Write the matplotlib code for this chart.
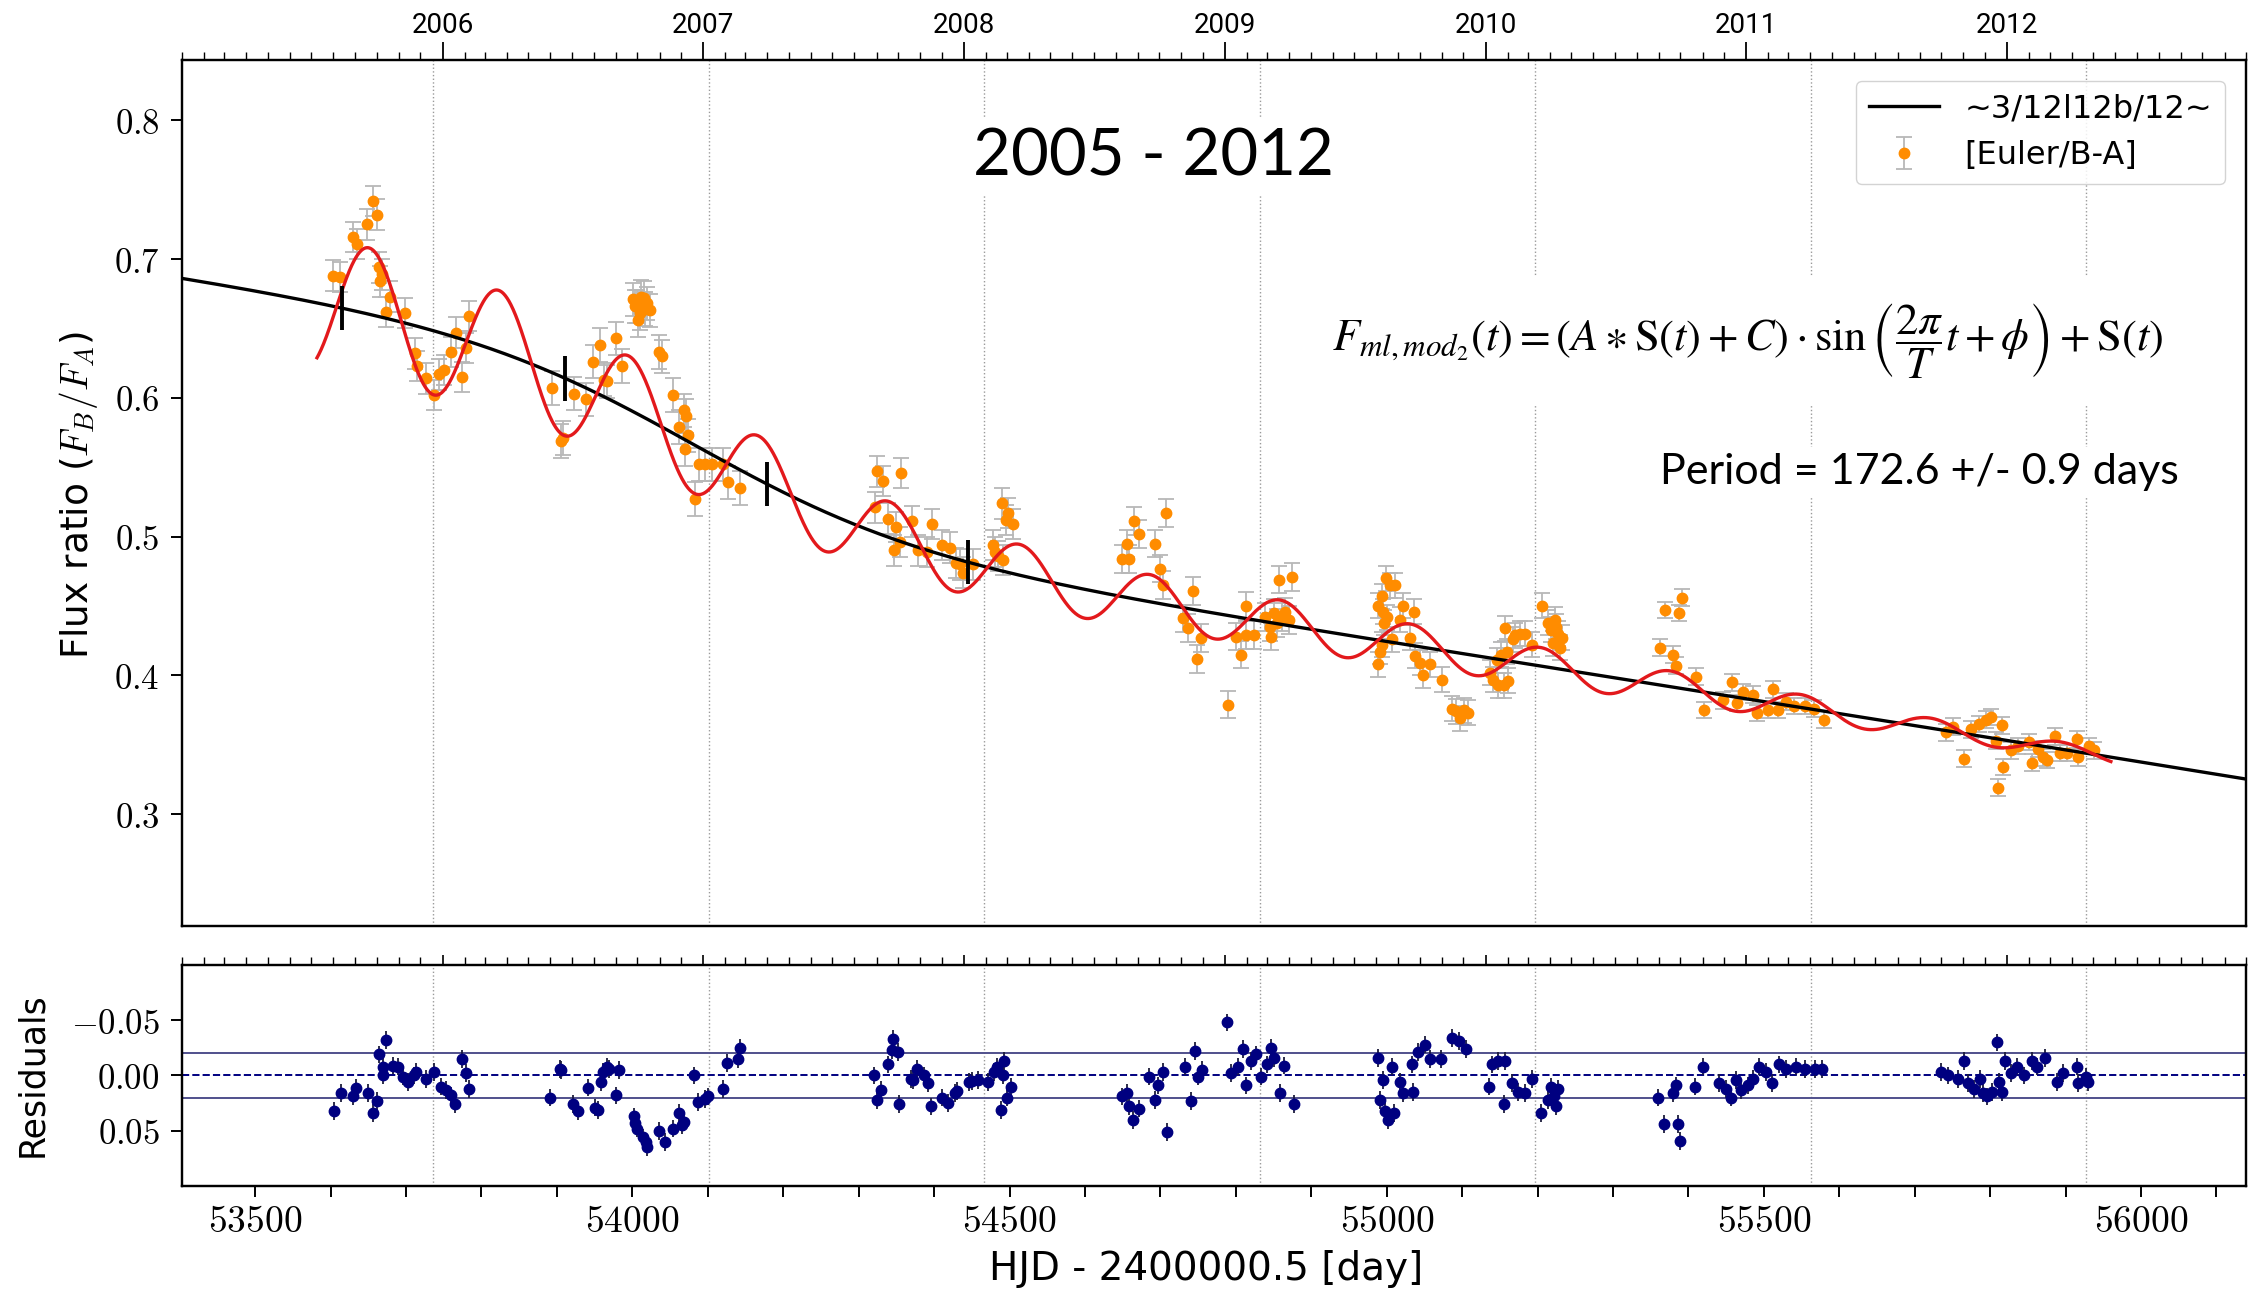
import numpy as np
import matplotlib
matplotlib.use('Agg')
import matplotlib.pyplot as plt
from matplotlib.ticker import FixedLocator, MultipleLocator, FuncFormatter

plt.rcParams['mathtext.fontset'] = 'cm'
plt.rcParams['font.family'] = 'DejaVu Sans'

# Euler B/A flux ratio, one pair of lists per observing season (MJD, ratio)
mjd_05 = [53603, 53613, 53630, 53635, 53648, 53656, 53662, 53664, 53666, 53668, 53674, 53679,
          53699, 53712, 53714, 53727, 53737, 53744, 53750, 53760, 53766, 53774, 53780, 53784]
ratio_05 = [0.688, 0.687, 0.716, 0.711, 0.725, 0.742, 0.732, 0.694, 0.684, 0.689, 0.662, 0.673,
            0.661, 0.632, 0.623, 0.614, 0.602, 0.617, 0.620, 0.633, 0.647, 0.615, 0.636, 0.659]

mjd_06 = [53893, 53906, 53908, 53923, 53939, 53948, 53957, 53962, 53966, 53978, 53986, 54001,
          54004, 54006, 54008, 54010, 54012, 54015, 54017, 54019, 54024, 54036, 54040, 54054,
          54062, 54068, 54070, 54071, 54074, 54083, 54088, 54096, 54105, 54120, 54127, 54143]
ratio_06 = [0.607, 0.569, 0.571, 0.603, 0.599, 0.626, 0.638, 0.613, 0.612, 0.643, 0.623, 0.671,
            0.666, 0.666, 0.656, 0.661, 0.673, 0.672, 0.664, 0.668, 0.663, 0.633, 0.630, 0.602,
            0.579, 0.591, 0.563, 0.587, 0.573, 0.527, 0.552, 0.552, 0.552, 0.552, 0.539, 0.535]

mjd_07 = [54322, 54324, 54332, 54339, 54347, 54350, 54355, 54356, 54371, 54379, 54391, 54397,
          54410, 54421, 54429, 54434, 54439, 54452, 54478, 54481, 54485, 54490, 54492, 54496,
          54498, 54504]
ratio_07 = [0.521, 0.547, 0.540, 0.513, 0.490, 0.507, 0.496, 0.546, 0.511, 0.490, 0.489, 0.509,
            0.494, 0.492, 0.481, 0.480, 0.474, 0.480, 0.494, 0.489, 0.486, 0.524, 0.483, 0.512,
            0.517, 0.509]

mjd_08 = [54649, 54656, 54659, 54665, 54672, 54693, 54699, 54703, 54708, 54730, 54736, 54743,
          54748, 54754, 54790, 54800, 54807, 54813, 54814, 54824, 54839, 54845, 54847, 54850,
          54854, 54857, 54861, 54865, 54870, 54875]
ratio_08 = [0.484, 0.495, 0.484, 0.511, 0.502, 0.495, 0.477, 0.465, 0.517, 0.441, 0.434, 0.461,
            0.412, 0.427, 0.379, 0.428, 0.415, 0.450, 0.429, 0.429, 0.442, 0.435, 0.428, 0.445,
            0.438, 0.469, 0.442, 0.446, 0.440, 0.471]

mjd_09 = [54988, 54989, 54991, 54994, 54994, 54995, 54997, 54999, 55001, 55004, 55007, 55011,
          55018, 55022, 55031, 55036, 55037, 55044, 55048, 55057, 55073, 55086, 55092, 55097,
          55103, 55108, 55137, 55141, 55146, 55148, 55152, 55155, 55157, 55159, 55161, 55168,
          55170, 55177, 55183, 55192, 55206, 55214, 55218, 55221, 55223, 55225, 55227, 55230,
          55232]
ratio_09 = [0.450, 0.408, 0.417, 0.457, 0.422, 0.446, 0.438, 0.470, 0.442, 0.465, 0.426, 0.465,
            0.440, 0.450, 0.427, 0.446, 0.414, 0.409, 0.400, 0.408, 0.397, 0.376, 0.374, 0.369,
            0.375, 0.373, 0.402, 0.397, 0.411, 0.393, 0.415, 0.393, 0.434, 0.417, 0.396, 0.426,
            0.429, 0.430, 0.430, 0.422, 0.450, 0.438, 0.433, 0.423, 0.440, 0.435, 0.430, 0.420,
            0.427]

mjd_10 = [55362, 55369, 55380, 55384, 55387, 55391, 55410, 55420, 55446, 55458, 55465, 55472,
          55486, 55491, 55506, 55512, 55519, 55529, 55540, 55554, 55566, 55580]
ratio_10 = [0.420, 0.447, 0.415, 0.407, 0.445, 0.456, 0.399, 0.375, 0.382, 0.395, 0.380, 0.388,
            0.386, 0.373, 0.375, 0.390, 0.375, 0.381, 0.378, 0.378, 0.376, 0.368]

mjd_11 = [55742, 55751, 55765, 55775, 55785, 55794, 55801, 55808, 55810, 55815, 55817, 55827,
          55837, 55851, 55855, 55864, 55870, 55875, 55886, 55893, 55902, 55915, 55917, 55931,
          55938]
ratio_11 = [0.359, 0.363, 0.340, 0.361, 0.365, 0.368, 0.370, 0.353, 0.319, 0.364, 0.334, 0.346,
            0.349, 0.352, 0.337, 0.347, 0.341, 0.339, 0.356, 0.344, 0.344, 0.354, 0.341, 0.349,
            0.346]

season_err = [0.011, 0.012, 0.011, 0.010, 0.009, 0.006, 0.006]

# residuals of the fit
resid_mjd = [53604, 53614, 53630, 53634, 53649, 53656, 53661, 53664, 53669, 53670, 53674, 53683,
             53689, 53696, 53702, 53711, 53713, 53727, 53737, 53746, 53753, 53759, 53765, 53774,
             53779, 53783,
             53891, 53904, 53906, 53922, 53928, 53941, 53950, 53955, 53959, 53961, 53967, 53969,
             53979, 53983, 54002, 54004, 54006, 54014, 54018, 54020, 54036, 54043, 54054, 54062,
             54066, 54068, 54082, 54087, 54096, 54100, 54120, 54126, 54140, 54143,
             54320, 54324, 54330, 54339, 54344, 54346, 54352, 54354, 54370, 54372, 54377, 54386,
             54392, 54396, 54410, 54418, 54428, 54431, 54446, 54450, 54458, 54471, 54480, 54484,
             54489, 54491, 54493, 54497, 54502,
             54649, 54656, 54658, 54664, 54671, 54685, 54693, 54697, 54704, 54709, 54732, 54741,
             54746, 54750, 54755,
             54788, 54794, 54803, 54809, 54814, 54820, 54827, 54834, 54841, 54847, 54851, 54858,
             54864, 54877,
             54989, 54991, 54995, 54998, 55002, 55007, 55010, 55017, 55022, 55033, 55035, 55042,
             55051, 55057, 55072, 55087, 55096, 55105, 55136, 55140, 55147, 55155, 55157, 55166,
             55174, 55183, 55192, 55205, 55214, 55218, 55222, 55224, 55227,
             55360, 55367, 55380, 55384, 55386, 55389, 55409, 55419, 55441, 55450, 55456, 55463,
             55470, 55479, 55485, 55494, 55503, 55511, 55520, 55529, 55542, 55555, 55568, 55577,
             55735, 55744, 55757, 55765, 55770, 55778, 55786, 55790, 55796, 55803, 55809, 55812,
             55816, 55820, 55827, 55836, 55845, 55856, 55862, 55873, 55888, 55897, 55915, 55917,
             55927, 55929]
resid_val = [0.032, 0.016, 0.019, 0.011, 0.016, 0.034, 0.023, -0.019, -0.008, 0.000, -0.032, -0.009,
             -0.008, 0.001, 0.006, 0.000, -0.003, 0.003, -0.003, 0.010, 0.013, 0.018, 0.026, -0.015,
             -0.002, 0.012,
             0.020, -0.006, -0.005, 0.026, 0.032, 0.011, 0.029, 0.031, 0.006, -0.003, -0.008, -0.006,
             0.018, -0.005, 0.037, 0.043, 0.048, 0.056, 0.060, 0.065, 0.050, 0.060, 0.048, 0.034,
             0.045, 0.042, 0.000, 0.024, 0.021, 0.019, 0.012, -0.011, -0.015, -0.025,
             0.000, 0.022, 0.013, -0.010, -0.023, -0.033, -0.021, 0.026, 0.003, 0.004, -0.006, 0.000,
             0.007, 0.028, 0.020, 0.025, 0.016, 0.014, 0.006, 0.005, 0.004, 0.006, -0.003, -0.008,
             0.031, 0.000, -0.013, 0.020, 0.010,
             0.019, 0.016, 0.028, 0.040, 0.030, 0.001, 0.022, 0.009, -0.003, 0.051, -0.008, 0.023,
             -0.022, 0.001, -0.005,
             -0.048, -0.002, -0.008, -0.024, 0.009, -0.013, -0.019, 0.001, -0.010, -0.025, -0.016, 0.016,
             -0.009, 0.026,
             -0.016, 0.022, 0.004, 0.032, 0.040, -0.008, 0.034, 0.006, 0.016, -0.010, 0.015, -0.021,
             -0.028, -0.015, -0.015, -0.034, -0.031, -0.024, 0.010, -0.010, -0.013, 0.026, -0.013, 0.007,
             0.015, 0.016, 0.003, 0.034, 0.022, 0.010, 0.019, 0.028, 0.012,
             0.020, 0.044, 0.016, 0.009, 0.044, 0.059, 0.010, -0.008, 0.007, 0.012, 0.020, 0.004,
             0.013, 0.009, 0.003, -0.008, -0.003, 0.007, -0.010, -0.006, -0.008, -0.006, -0.006, -0.006,
             -0.003, 0.000, 0.003, -0.013, 0.007, 0.012, 0.003, 0.016, 0.019, 0.015, -0.030, 0.006,
             0.015, -0.013, -0.002, -0.008, 0.000, -0.013, -0.008, -0.016, 0.006, -0.002, -0.008, 0.007,
             0.001, 0.006]
resid_err = 0.008

# points read along the smooth microlensing curve S(t)
curve_mjd = [53403, 53546, 53615, 53736, 53864, 53911, 54032, 54121, 54178, 54291, 54445, 54585,
             54775, 54973, 55283, 55661, 56025, 56139]
curve_ratio = [0.684, 0.674, 0.666, 0.651, 0.627, 0.615, 0.578, 0.548, 0.534, 0.508, 0.486, 0.469,
               0.446, 0.4255, 0.3986, 0.3666, 0.3361, 0.325]

# modulation model: F = (A*S(t) + C) * sin(2*pi/T * t + phi) + S(t)
period = 172.6
amp_a = 0.136
amp_c = -0.042
t_peak = 53651.0
model_start, model_end = 53582, 55960

mark_mjd = [53615, 53911, 54178, 54445]

year_labels = ['2006', '2007', '2008', '2009', '2010', '2011', '2012']


def to_mjd(dates):
    return (np.asarray(dates, dtype='datetime64[D]') - np.datetime64('1858-11-17')).astype(float)


# smooth curve through the read points: quadratic trend plus a step around 2006.9
def basis(t):
    u = (np.asarray(t, float) - 54800.0) / 1000.0
    return np.column_stack([np.ones_like(u), u, u ** 2, np.tanh((np.asarray(t, float) - 54080.0) / 300.0)])


coef = np.linalg.lstsq(basis(curve_mjd), np.array(curve_ratio), rcond=None)[0]


def smooth(t):
    return basis(t) @ coef


phi = np.pi / 2 - 2 * np.pi * t_peak / period


def modulated(t):
    s = smooth(t)
    return (amp_a * s + amp_c) * np.sin(2 * np.pi / period * t + phi) + s


flux_mjd = np.concatenate([mjd_05, mjd_06, mjd_07, mjd_08, mjd_09, mjd_10, mjd_11])
flux_ratio = np.concatenate([ratio_05, ratio_06, ratio_07, ratio_08, ratio_09, ratio_10, ratio_11])
flux_err = np.concatenate([np.full(len(m), e) for m, e in
                           zip([mjd_05, mjd_06, mjd_07, mjd_08, mjd_09, mjd_10, mjd_11], season_err)])

year_mjd = to_mjd([y + '-01-01' for y in year_labels])
month_mjd = to_mjd(np.arange('2005-01', '2013-01', dtype='datetime64[M]').astype('datetime64[D]'))

xlim = (53403, 56139)

fig = plt.figure(figsize=(22.52, 13.0), dpi=100)
ax = fig.add_axes([0.0808, 0.2877, 0.9165, 0.6662])
axr = fig.add_axes([0.0808, 0.0877, 0.9165, 0.1700])

for a in (ax, axr):
    for sp in a.spines.values():
        sp.set_linewidth(1.6)
    for m in year_mjd:
        a.axvline(m, color='#9a9a9a', ls=':', lw=1.0, zorder=0)

# main panel
eb = ax.errorbar(flux_mjd, flux_ratio, yerr=flux_err, fmt='o', color='darkorange', ms=7.5,
                 ecolor='#b8b8b8', elinewidth=1.3, capsize=5.5, capthick=1.3, zorder=2,
                 label='[Euler/B-A]')
tt = np.linspace(xlim[0], xlim[1], 2000)
line, = ax.plot(tt, smooth(tt), color='black', lw=2.4, zorder=3, label='~3/12l12b/12~')
tm = np.linspace(model_start, model_end, 3000)
ax.plot(tm, modulated(tm), color='#e3191c', lw=2.4, zorder=4)
ms = smooth(mark_mjd)
ax.vlines(mark_mjd, ms - 0.016, ms + 0.016, color='black', lw=2.8, zorder=5)

ax.set_xlim(*xlim)
ax.set_ylim(0.2194, 0.8435)
ax.yaxis.set_major_locator(FixedLocator([0.3, 0.4, 0.5, 0.6, 0.7, 0.8]))
ax.yaxis.set_major_formatter(FuncFormatter(lambda v, p: '$%.1f$' % v))
ax.tick_params(axis='y', labelsize=25, length=8, width=1.4, pad=8, right=False)

ax.legend(handles=[line, eb], loc='upper right', fontsize=23, handlelength=2.2,
          framealpha=0.85, edgecolor='#cccccc', borderaxespad=0.65)

ax.text(0.4705, 0.888, '2005 - 2012', transform=ax.transAxes, ha='center', va='center',
        fontsize=47, family='Lato', zorder=6,
        bbox=dict(facecolor='white', edgecolor='none', pad=6))
ax.text(0.7587, 0.676,
        r'$F_{ml,mod_2}(t) = (A \ast \mathrm{S}(t) + C) \cdot \sin\left(\dfrac{2\pi}{T}t + \phi\right) + \mathrm{S}(t)$',
        transform=ax.transAxes, ha='center', va='center', fontsize=32, math_fontfamily='stix',
        zorder=6, bbox=dict(facecolor='white', edgecolor='none', pad=18))
ax.text(0.8416, 0.5247, 'Period = 172.6 +/- 0.9 days', transform=ax.transAxes, ha='center',
        va='center', fontsize=31, family='Lato', zorder=6,
        bbox=dict(facecolor='white', edgecolor='none', pad=4))

# residual panel
axr.axhline(0.02, color='#50508c', lw=1.4, zorder=1)
axr.axhline(-0.02, color='#50508c', lw=1.4, zorder=1)
axr.axhline(0.0, color='navy', ls='--', lw=1.4, zorder=1)
axr.errorbar(resid_mjd, resid_val, yerr=resid_err, fmt='o', color='navy', ms=7.5,
             ecolor='#1c1c3c', elinewidth=1.3, capsize=0, zorder=3)
axr.set_xlim(*xlim)
axr.set_ylim(0.1, -0.1)
axr.yaxis.set_major_locator(FixedLocator([-0.05, 0.0, 0.05]))
axr.yaxis.set_major_formatter(FuncFormatter(lambda v, p: '$%.2f$' % v))
axr.xaxis.set_major_locator(MultipleLocator(500))
axr.xaxis.set_minor_locator(MultipleLocator(100))
axr.xaxis.set_major_formatter(FuncFormatter(lambda v, p: '$%d$' % round(v)))
axr.tick_params(axis='y', labelsize=25, length=8, width=1.4, pad=8, right=False)
axr.tick_params(axis='x', which='both', labelsize=27, length=8, width=1.4, pad=5, top=False)

# calendar years along the top of both panels
for a, show in ((ax, True), (axr, False)):
    tw = a.twiny()
    tw.set_xlim(*xlim)
    tw.set_xticks(year_mjd)
    tw.set_xticks(month_mjd, minor=True)
    if show:
        tw.set_xticklabels(year_labels, fontfamily='Roboto', fontsize=20)
        tw.tick_params(axis='x', which='major', length=13, width=1.3, pad=2)
    else:
        tw.set_xticklabels([])
        tw.tick_params(axis='x', which='major', length=7, width=1.2)
    tw.tick_params(axis='x', which='minor', length=6, width=1.0)
    for sp in tw.spines.values():
        sp.set_linewidth(1.6)
    a.tick_params(axis='x', top=False)

ax.tick_params(axis='x', bottom=False, labelbottom=False)

fig.text(0.035, 0.619, 'Flux ratio ($F_B/F_A$)', rotation=90, ha='center', va='center', fontsize=27)
fig.text(0.0142, 0.173, 'Residuals', rotation=90, ha='center', va='center', fontsize=25)
fig.text(0.5355, 0.0238, 'HJD - 2400000.5 [day]', ha='center', va='center', fontsize=28)

fig.savefig('out.png', dpi=100)
